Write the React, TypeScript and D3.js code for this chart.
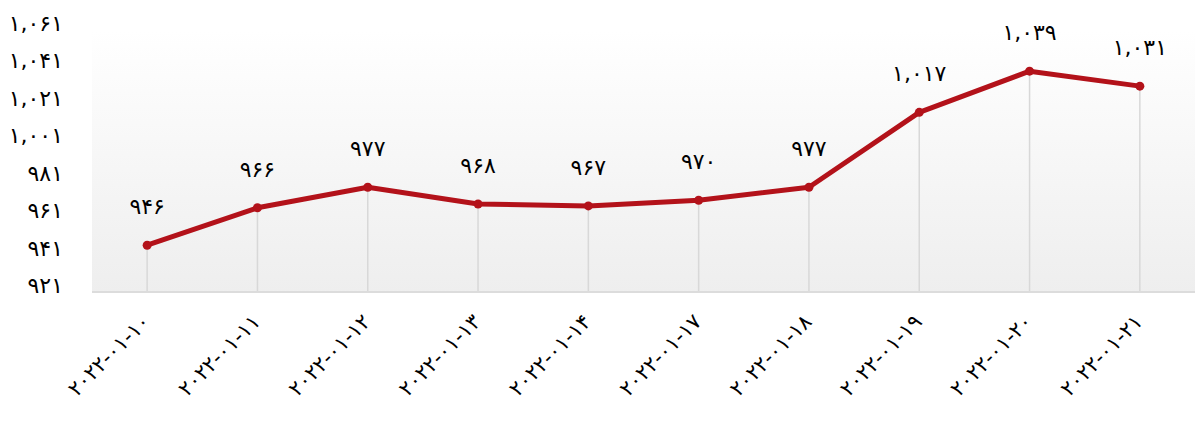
import React from "react";
import * as d3 from "d3";

const categories = [
  "2022-01-10", "2022-01-11", "2022-01-12", "2022-01-13", "2022-01-14",
  "2022-01-17", "2022-01-18", "2022-01-19", "2022-01-20", "2022-01-21",
];
const values = [946, 966, 977, 968, 967, 970, 977, 1017, 1039, 1031];
const yTicks = [921, 941, 961, 981, 1001, 1021, 1041, 1061];

const W = 1204;
const H = 429;
const margin = { left: 92, right: 9, top: 30, bottom: 137 };

const fa = (s: string) => s.replace(/[0-9]/g, (d) => String.fromCharCode(0x06f0 + Number(d)));
const fmt = (v: number) => fa(d3.format(",")(v));

export default function App() {
  const x = d3
    .scaleBand<string>()
    .domain(categories)
    .range([margin.left, W - margin.right])
    .padding(0);
  const y = d3
    .scaleLinear()
    .domain([921, 1061])
    .range([H - margin.bottom, margin.top]);
  const cx = (c: string) => (x(c) as number) + x.bandwidth() / 2;
  const line = d3
    .line<number>()
    .x((_, i) => cx(categories[i]))
    .y((v) => y(v));
  const font = "'DejaVu Sans', 'Noto Sans', sans-serif";
  const bottom = H - margin.bottom;

  return (
    <svg
      width={W}
      height={H}
      style={{ position: "absolute", left: 0, top: 0, display: "block", background: "#fff" }}
      fontFamily={font}
    >
      <defs>
        <linearGradient id="bg" x1="0" y1="0" x2="0" y2="1">
          <stop offset="0" stopColor="#ffffff" />
          <stop offset="1" stopColor="#eeeeee" />
        </linearGradient>
      </defs>
      <rect
        x={margin.left}
        y={margin.top}
        width={W - margin.left - margin.right}
        height={bottom - margin.top}
        fill="url(#bg)"
      />
      {categories.map((c, i) => (
        <line
          key={"g" + c}
          x1={cx(c)}
          x2={cx(c)}
          y1={y(values[i])}
          y2={bottom}
          stroke="#d8d8d8"
          strokeWidth={1.5}
        />
      ))}
      <line x1={margin.left} x2={W - margin.right} y1={bottom} y2={bottom} stroke="#dcdcdc" strokeWidth={2} />
      {yTicks.map((t) => (
        <text
          key={"y" + t}
          x={63}
          y={y(t) + 1}
          textAnchor="end"
          fontSize={22}
          fill="#000"
          direction="ltr"
        >
          {fmt(t)}
        </text>
      ))}
      <path d={line(values) || ""} fill="none" stroke="#b3121a" strokeWidth={5} strokeLinejoin="round" />
      {values.map((v, i) => (
        <circle key={"p" + i} cx={cx(categories[i])} cy={y(v)} r={4.5} fill="#b3121a" />
      ))}
      {values.map((v, i) => (
        <text
          key={"l" + i}
          x={cx(categories[i])}
          y={y(v) - 31}
          textAnchor="middle"
          fontSize={22}
          fill="#000"
          direction="ltr"
        >
          {fmt(v)}
        </text>
      ))}
      {categories.map((c) => (
        <text
          key={"x" + c}
          transform={`translate(${cx(c) + 4},${bottom + 31}) rotate(-45)`}
          textAnchor="end"
          fontSize={21}
          fill="#000"
          direction="ltr"
        >
          {fa(c)}
        </text>
      ))}
    </svg>
  );
}
